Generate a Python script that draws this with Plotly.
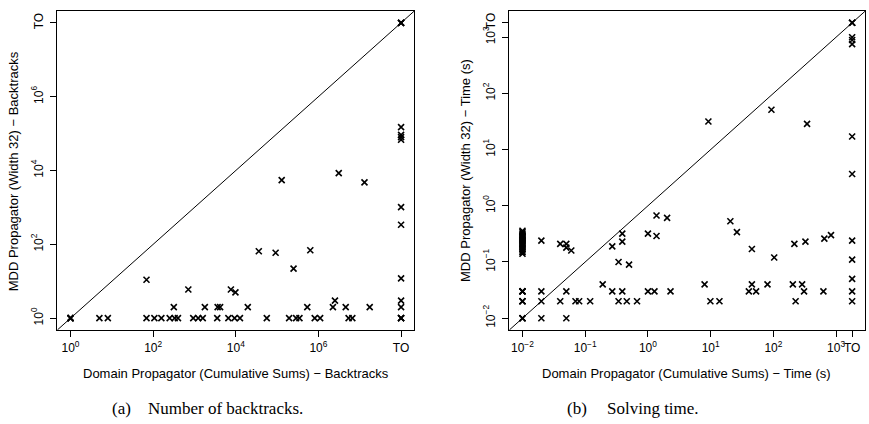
import plotly.graph_objects as go

TO = "TO"

# ---- (a) backtracks: domain propagator (cumulative sums) vs MDD propagator (width 32)
bt_domain = (
    [1, 1, 1, 1]
    + [5, 8, 69, 107, 158, 251, 331, 398, 933, 1230, 1585, 3550, 6610, 9330, 12600,
       56200, 195000, 288000, 347000, 813000, 1100000, 5370000, 6610000, TO, TO, TO]
    + [316, 1780, 3630, 4170, 19500, 537000, 2240000, 4570000, 17400000, TO]
    + [2510000, TO]
    + [69, 710, 7600, 9800, 36000, 92000, 250000, 635000, 129000, 3100000, 13000000]
    + [TO, TO, TO, TO, TO, TO, TO]
    + [TO, TO, TO]
)
bt_mdd = (
    [1, 1, 1, 1]
    + [1] * 26
    + [2] * 10
    + [3, 3]
    + [11, 6, 6, 5, 65, 59, 22, 69, 5500, 8500, 4750]
    + [149000, 92000, 80000, 68000, 1020, 340, 12]
    + [TO, TO, TO]
)
BT_TIMEOUT = 1e8
bt_ticks = [1, 1e2, 1e4, 1e6, BT_TIMEOUT]
bt_ticktext = ["10<sup>0</sup>", "10<sup>2</sup>", "10<sup>4</sup>", "10<sup>6</sup>", "TO"]

# ---- (b) solving time in seconds
time_col_low = [0.14, 0.15, 0.16, 0.17, 0.18, 0.19, 0.20, 0.21, 0.22, 0.23, 0.24,
                0.25, 0.26, 0.27, 0.28, 0.29, 0.30, 0.32, 0.34, 0.36]
time_domain = (
    [0.01] * 9 + [0.01] * len(time_col_low)
    + [0.02, 0.02, 0.02, 0.02, 0.04, 0.04, 0.05, 0.05, 0.05, 0.05, 0.06, 0.07, 0.08, 0.12,
       0.19, 0.27, 0.27, 0.34, 0.34, 0.39, 0.39, 0.39, 0.46, 0.50, 0.67, 1.0, 1.0, 1.27,
       1.37, 1.37, 2.02, 2.29, 8.0, 9.2, 9.9, 13.8, 20.6, 26.2, 45.4, 45.4, 40.6, 53,
       80.5, 93, 103, 204, 216, 226, 287, 308, 324, 344, 627, 649, 828]
    + [TO] * 13
)
time_mdd = (
    [0.01, 0.01, 0.01, 0.02, 0.02, 0.02, 0.03, 0.03, 0.03] + time_col_low
    + [0.24, 0.03, 0.02, 0.01, 0.21, 0.02, 0.21, 0.18, 0.03, 0.01, 0.16, 0.02, 0.02, 0.02,
       0.04, 0.03, 0.19, 0.10, 0.02, 0.32, 0.23, 0.03, 0.02, 0.09, 0.02, 0.32, 0.03, 0.03,
       0.67, 0.29, 0.61, 0.03, 0.04, 31.6, 0.02, 0.02, 0.53, 0.34, 0.17, 0.04, 0.03, 0.03,
       0.04, 51, 0.12, 0.04, 0.21, 0.02, 0.04, 0.03, 0.23, 28.7, 0.03, 0.26, 0.30]
    + [TO, TO, TO, 995, 890, 750, 17.1, 3.67, 0.24, 0.11, 0.05, 0.03, 0.02]
)
TIME_TIMEOUT = 1800
time_ticks = [0.01, 0.1, 1, 10, 100, 1000, TIME_TIMEOUT]
time_ticktext = ["10<sup>\u22122</sup>", "10<sup>\u22121</sup>", "10<sup>0</sup>",
                 "10<sup>1</sup>", "10<sup>2</sup>", "10<sup>3</sup>", "TO"]

BT_RANGE = [-0.32, 8.32]
TIME_RANGE = [-2.21, 3.465]


def place(values, timeout):
    return [timeout if v == TO else v for v in values]


W, H = 869, 424
FONT = "Liberation Sans, Arial, Helvetica, sans-serif"
SERIF = "Liberation Serif, Times New Roman, serif"


def px_x(p):
    return p / W


def px_y(p):
    return 1 - p / H


marker = dict(symbol="x-thin", size=6, color="black", line=dict(color="black", width=1.6))

fig = go.Figure()

# diagonal y = x over the full plotting range
for xa, ya, rng in (("x", "y", BT_RANGE), ("x2", "y2", TIME_RANGE)):
    ends = [10 ** rng[0], 10 ** rng[1]]
    fig.add_trace(go.Scatter(x=ends, y=ends, mode="lines", xaxis=xa, yaxis=ya,
                             line=dict(color="black", width=1), hoverinfo="skip",
                             showlegend=False, cliponaxis=True))

fig.add_trace(go.Scatter(x=place(bt_domain, BT_TIMEOUT), y=place(bt_mdd, BT_TIMEOUT),
                         mode="markers", marker=marker, xaxis="x", yaxis="y",
                         showlegend=False, cliponaxis=False))
fig.add_trace(go.Scatter(x=place(time_domain, TIME_TIMEOUT), y=place(time_mdd, TIME_TIMEOUT),
                         mode="markers", marker=marker, xaxis="x2", yaxis="y2",
                         showlegend=False, cliponaxis=False))

axis_common = dict(type="log", showgrid=False, zeroline=False, showline=True, mirror=True,
                   linecolor="black", linewidth=1, ticks="outside", ticklen=6, tickwidth=1,
                   tickcolor="black", tickfont=dict(family=FONT, size=12, color="black"),
                   tickmode="array", fixedrange=True)

left_dom = [px_x(57.3), px_x(414.3)]
right_dom = [px_x(509.3), px_x(865.3)]
y_dom = [px_y(330), px_y(11)]

fig.update_layout(
    width=W, height=H, margin=dict(l=0, r=0, t=0, b=0),
    paper_bgcolor="white", plot_bgcolor="white",
    xaxis=dict(axis_common, domain=left_dom, range=BT_RANGE, anchor="y",
               tickvals=bt_ticks, ticktext=bt_ticktext, tickangle=0, ticklabelstandoff=1),
    yaxis=dict(axis_common, domain=y_dom, range=BT_RANGE, anchor="x",
               tickvals=bt_ticks, ticktext=bt_ticktext, tickangle=-90, ticklabelstandoff=3),
    xaxis2=dict(axis_common, domain=right_dom, range=TIME_RANGE, anchor="y2",
                tickvals=time_ticks, ticktext=time_ticktext, tickangle=0, ticklabelstandoff=1),
    yaxis2=dict(axis_common, domain=y_dom, range=TIME_RANGE, anchor="x2",
                tickvals=time_ticks, ticktext=time_ticktext, tickangle=-90, ticklabelstandoff=3),
)

title_font = dict(family=FONT, size=13, color="black")
cap_font = dict(family=SERIF, size=17, color="black")
annotations = [
    dict(text="Domain Propagator (Cumulative Sums) \u2212 Backtracks", x=px_x(235.7), y=px_y(373),
         font=title_font),
    dict(text="MDD Propagator (Width 32) \u2212 Backtracks", x=px_x(13.3), y=px_y(171),
         font=title_font, textangle=-90),
    dict(text="Domain Propagator (Cumulative Sums) \u2212 Time (s)", x=px_x(686.7), y=px_y(373),
         font=title_font),
    dict(text="MDD Propagator (Width 32) \u2212 Time (s)", x=px_x(465), y=px_y(171),
         font=title_font, textangle=-90),
    dict(text="(a)", x=px_x(121.5), y=px_y(408), font=cap_font),
    dict(text="Number of backtracks.", x=px_x(225.5), y=px_y(408), font=cap_font),
    dict(text="(b)", x=px_x(576.5), y=px_y(408), font=cap_font),
    dict(text="Solving time.", x=px_x(653), y=px_y(408), font=cap_font),
]
for a in annotations:
    a.update(xref="paper", yref="paper", showarrow=False, xanchor="center", yanchor="middle")
fig.update_layout(annotations=annotations)

fig.write_html("out.html")
